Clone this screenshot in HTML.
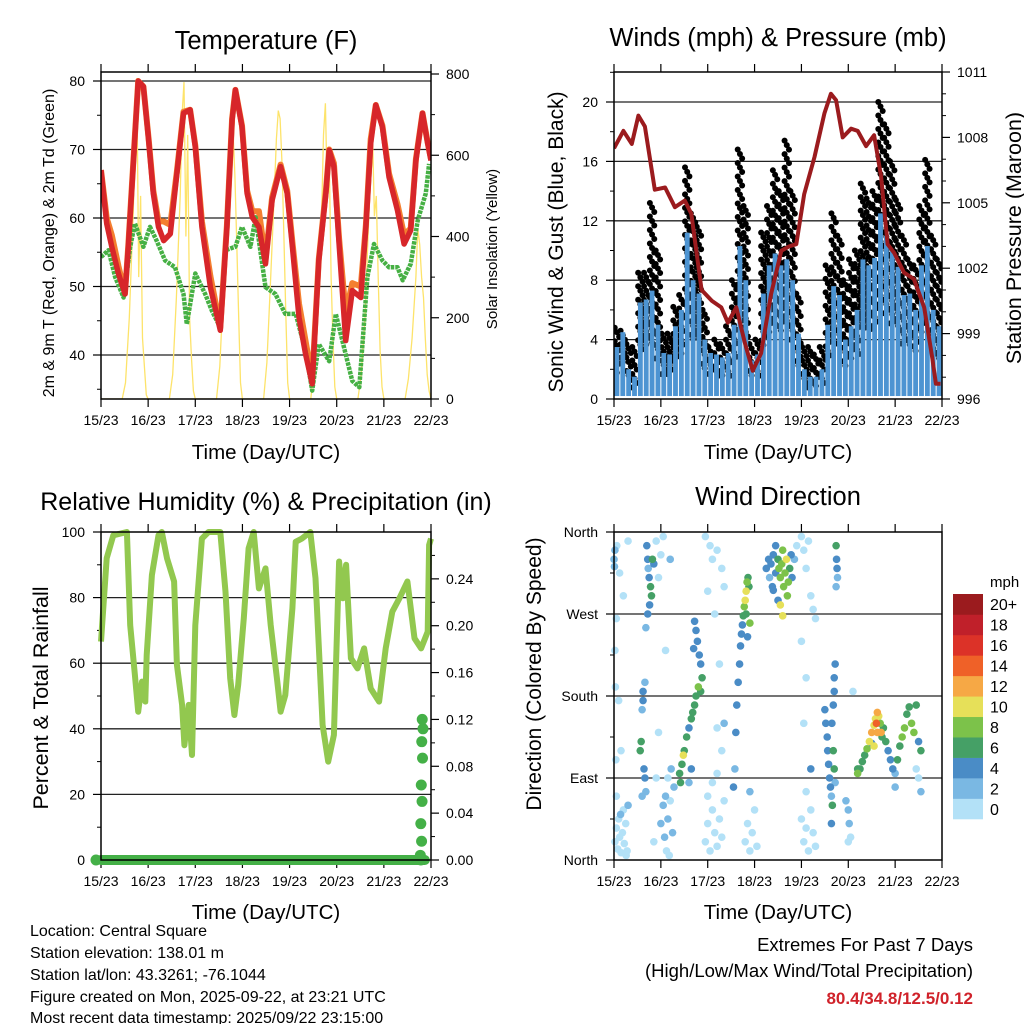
<!DOCTYPE html>
<html><head><meta charset="utf-8"><style>
html,body{margin:0;padding:0;background:#fff;}
svg{display:block;font-family:"Liberation Sans",Arial,sans-serif;}
</style></head><body>
<svg id="root" width="1024" height="1024" viewBox="0 0 1024 1024" xmlns="http://www.w3.org/2000/svg">
<rect x="0" y="0" width="1024" height="1024" fill="#fff"/>
<g font-size="25.5" text-anchor="middle" fill="#000">
<text x="266" y="49">Temperature (F)</text>
<text x="778" y="46">Winds (mph) &amp; Pressure (mb)</text>
<text x="266" y="510" font-size="25">Relative Humidity (%) &amp; Precipitation (in)</text>
<text x="778" y="505">Wind Direction</text>
</g>
<g font-size="20.5" text-anchor="middle">
<text x="266" y="459">Time (Day/UTC)</text>
<text x="778" y="459">Time (Day/UTC)</text>
<text x="266" y="919">Time (Day/UTC)</text>
<text x="778" y="919">Time (Day/UTC)</text>
<text transform="translate(54,243) rotate(-90)" font-size="16">2m &amp; 9m T (Red, Orange) &amp; 2m Td (Green)</text>
<text transform="translate(497,249) rotate(-90)" font-size="15">Solar Insolation (Yellow)</text>
<text transform="translate(563,242) rotate(-90)" font-size="21">Sonic Wind &amp; Gust (Blue, Black)</text>
<text transform="translate(1021,238) rotate(-90)" font-size="21.5">Station Pressure (Maroon)</text>
<text transform="translate(48,698) rotate(-90)" font-size="21.5">Percent &amp; Total Rainfall</text>
<text transform="translate(541,674) rotate(-90)" font-size="21">Direction (Colored By Speed)</text>
</g>
<g font-size="16">
<text x="30" y="936">Location: Central Square</text>
<text x="30" y="958">Station elevation: 138.01 m</text>
<text x="30" y="980">Station lat/lon: 43.3261; -76.1044</text>
<text x="30" y="1002">Figure created on Mon, 2025-09-22, at 23:21 UTC</text>
<text x="30" y="1024" dy="-1">Most recent data timestamp: 2025/09/22 23:15:00</text>
</g>
<g font-size="18.5" text-anchor="end">
<text x="973" y="951">Extremes For Past 7 Days</text>
<text x="973" y="977">(High/Low/Max Wind/Total Precipitation)</text>
<text x="973" y="1004" fill="#d0222a" font-weight="bold" font-size="17">80.4/34.8/12.5/0.12</text>
</g>
</svg>
<script>
const dayLabels = ['15/23','16/23','17/23','18/23','19/23','20/23','21/23','22/23'];
// Temperature
const redD = [0,0.12,0.23,0.37,0.51,0.58,0.69,0.79,0.9,1.01,1.11,1.22,1.33,1.47,1.61,1.75,1.89,2.0,2.14,2.32,2.53,2.67,2.78,2.85,2.99,3.1,3.21,3.35,3.49,3.63,3.81,3.95,4.06,4.2,4.34,4.48,4.62,4.77,4.84,4.94,5.05,5.19,5.33,5.51,5.62,5.72,5.83,5.97,6.11,6.29,6.43,6.57,6.68,6.82,6.93,7];
const redV = [67,59.2,55.8,51.9,48.9,55.8,68.4,80,79.2,71.4,63.6,58.7,56.7,57.7,66.5,75.3,75.8,70.4,58.7,49.9,43.6,58.7,74.3,78.7,73.3,63.6,60.1,58.7,53.3,62.6,67.5,63.6,55.8,45.5,40.1,35.8,53.8,63.6,69.9,67.5,56.2,42.1,49.4,48.4,58.7,70.9,76.5,73.3,66,61.1,56.2,58.2,68.4,75.3,70.9,68.4];
const orangeV = [67,60,57.5,53,49,56,68.6,80,79.2,71.6,64,59.5,59.5,59,66.8,75.5,75.8,70.6,59.5,51.5,44,58.9,74.5,78.7,73.5,64,61,61,54,63,67.8,64,56.5,47.5,42,36.5,54,64,70,68,57,46,50.5,50,59,71.5,76.5,73.5,66.5,62,57.5,58.5,68.6,75.3,71,68.6];
const greenD = [0,0.16,0.3,0.48,0.62,0.72,0.9,1.04,1.18,1.36,1.57,1.75,1.82,2,2.21,2.35,2.53,2.64,2.85,2.99,3.17,3.28,3.49,3.7,3.91,4.13,4.34,4.48,4.62,4.84,4.98,5.19,5.33,5.48,5.65,5.79,5.97,6.11,6.29,6.4,6.57,6.72,6.89,6.96];
const greenV = [54.3,55.3,51.4,48.4,55.8,59.2,55.8,58.7,56.7,53.8,52.8,48.9,44.5,51.9,48.9,46.5,44,55.3,55.8,58.7,55.8,60.1,49.9,48.9,46,46,40.6,34.8,41.6,39.1,46,40.1,36.2,35.3,51.4,56.2,53.8,52.8,52.8,50.9,53.3,59.7,63.6,67.9];
const solarOffsets = [0.45,0.52,0.6,0.68,0.72,0.76,0.8,0.84,0.88,0.92,0.96,1.0];
const solarDay0 = [0,40,200,450,600,790,300,500,150,80,10,0];
const solarDay1 = [0,60,250,500,700,780,400,650,200,100,20,0];
const solarDay2 = [0,80,280,500,620,690,660,550,380,200,40,0];
const solarDay3 = [0,90,300,520,640,710,690,580,400,210,40,0];
const solarDay4 = [0,80,250,450,650,728,500,600,300,150,30,0];
const solarDay5 = [0,60,200,450,550,654,450,500,300,120,30,0];
const solarDay6 = [0,50,150,300,420,380,300,250,150,60,20,0];
// Winds
const windTop = [3.5,4.5,2,1.5,6.5,6.7,7.3,5,3.1,3,4.9,6,11.2,8,7.1,4,3.1,3,2.8,3.1,5,10.3,8,2.6,3,7.1,9,9.8,9,9.4,8,4.4,2,1.5,1.5,2,5,7.6,7,4,4.9,6,9.4,9,9.5,12.5,11,10,8.9,7,7.1,6,9,10.3,6,4.9];
const gustTop = [4.8,4.6,3.7,3.5,8.5,8.5,13.2,10,4.4,4.4,6.2,7,15.6,12.5,11.6,6,3.5,4,3.7,4.9,8,16.8,13,3.7,4,11.2,13,15.4,14,17.4,14,7.1,3.5,3.5,3,3.5,9,12.5,11,8,9.4,10,14.5,13.5,14,20,18.5,16,13.4,11,9.4,9,13,16.1,11,9.4];
const presD = [0,0.2,0.38,0.52,0.66,0.87,1.09,1.3,1.51,1.65,1.87,2.09,2.29,2.43,2.61,2.79,2.96,3.14,3.35,3.57,3.74,3.89,4.06,4.28,4.49,4.63,4.74,4.88,5.06,5.2,5.38,5.55,5.7,5.84,5.98,6.19,6.4,6.62,6.79,6.87,6.97];
const presV = [1007.5,1008.3,1007.7,1009,1008.5,1005.6,1005.7,1004.8,1005.1,1004.5,1001,1000.5,1000.2,999.5,1000.2,998.6,997.3,998.1,1000.8,1002.8,1003,1003.1,1005.4,1007.1,1009.1,1010,1009.7,1008,1008.4,1008.3,1007.6,1008.1,1006.2,1003.1,1002.7,1001.8,1001.5,1000.2,997.9,996.7,996.7];
// Humidity & precip
const rhD = [0,0.12,0.26,0.55,0.62,0.72,0.79,0.87,0.94,0.97,1.08,1.22,1.29,1.4,1.55,1.61,1.72,1.77,1.86,1.93,2,2.14,2.28,2.53,2.64,2.74,2.83,2.91,3.03,3.13,3.24,3.35,3.49,3.6,3.74,3.81,3.91,4.06,4.13,4.26,4.44,4.55,4.7,4.82,4.94,5.05,5.13,5.2,5.3,5.44,5.58,5.72,5.9,6.04,6.18,6.33,6.5,6.65,6.79,6.93,6.96,7];
const rhV = [66.6,92,99,100,71.6,56.4,45.2,54.4,48.3,62.5,86.9,99,100,92,84.9,59.5,47.3,35,47.3,32,71.6,98,100,100,81.8,55.4,44.2,53.4,73.7,95,100,82.8,88.9,71.6,54.4,45.2,50.3,76.7,97,98,100,85.9,41.2,30,38.1,91,79.8,90,61.5,58.4,64.5,52.3,48.3,64.5,75.7,79.8,84.9,67.6,64.5,69.6,96,98];
const precipD = [0,6.87,6.88,6.885,6.89,6.895,6.9,6.905,6.91,6.915,6.92];
const precipV = [0,0,0.004,0.016,0.031,0.05,0.064,0.087,0.101,0.112,0.12];
// Wind direction [day, degrees, mph]
const dirDay = [0.02,0.05,0.08,0.1,0.12,0.15,0.18,0.2,0.22,0.25,0.28,0.3,0.05,0.14,0.26,0,0.01,0.02,0.06,0.12,0.2,0.3,0.05,0.03,0.1,0.04,0.15,0.02,0.7,0.72,0.73,0.75,0.78,0.82,0.85,0.8,0.76,0.72,0.68,0.66,0.62,0.62,0.6,0.58,0.56,0.64,0.66,0.68,0.6,0.9,1.0,1.05,0.95,1.1,1.2,0.9,0.95,0.85,1.0,1.05,1.08,1.1,1.12,1.15,1.18,1.2,1.25,1.28,1.15,1.22,1.4,1.45,1.48,1.5,1.55,1.6,1.65,1.68,1.72,1.75,1.8,1.85,1.88,1.85,1.82,1.78,1.75,1.72,1.7,1.65,1.6,1.42,1.95,2.0,2.05,2.1,2.15,2.2,2.25,2.3,2.35,2.0,2.1,2.2,2.3,2.2,2.35,1.95,2.05,2.1,2.2,2.3,2.35,2.15,2.0,2.25,2.55,2.58,2.6,2.62,2.65,2.68,2.7,2.72,2.74,2.76,2.78,2.8,2.82,2.84,2.86,2.88,2.82,2.85,2.9,2.8,2.85,2.9,2.95,3.0,2.9,3.05,3.25,3.3,3.32,3.35,3.38,3.4,3.45,3.45,3.5,3.52,3.55,3.58,3.6,3.62,3.65,3.68,3.7,3.72,3.75,3.78,3.8,3.55,3.6,3.5,3.85,3.9,3.4,4.0,4.05,4.1,4.15,4.2,4.25,4.3,4.0,4.1,4.05,4.0,4.05,4.1,4.15,4.2,4.25,4.3,4.1,4.2,4.5,4.52,4.55,4.56,4.58,4.6,4.62,4.64,4.66,4.65,4.68,4.7,4.7,4.72,4.68,4.7,4.72,4.64,4.74,4.75,4.76,4.77,4.74,4.95,5.0,5.02,5.05,5.0,5.1,5.2,5.2,5.25,5.3,5.35,5.4,5.45,5.5,5.55,5.58,5.62,5.65,5.68,5.7,5.72,5.75,5.8,5.85,5.9,5.95,6.0,6.05,6.1,6.15,6.2,6.25,6.3,6.35,6.4,6.45,6.5,6.55,6.0,5.5,5.6,5.62,5.55,6.5,6.55,6.45];
const dirDeg = [20,35,12,45,25,8,30,55,18,40,10,60,70,50,5,330,322,340,345,315,290,350,265,190,175,110,120,230,345,330,320,310,300,330,325,290,280,270,255,195,185,175,165,130,120,100,90,75,70,350,335,355,310,230,330,90,140,20,40,60,25,70,10,45,5,65,30,80,90,100,95,105,115,120,135,145,155,162,170,180,190,185,200,215,225,240,252,262,232,100,85,85,20,40,10,55,30,15,45,25,65,70,85,95,120,145,150,355,345,330,340,320,300,270,295,215,80,100,140,170,195,215,235,248,258,268,278,285,295,305,310,300,270,245,260,20,40,10,30,55,75,15,320,330,310,325,300,335,345,315,330,320,310,325,340,300,315,330,290,305,320,335,310,280,268,285,330,345,296,355,340,320,350,290,275,265,240,200,150,45,20,35,10,55,30,15,75,100,165,150,135,120,105,90,80,70,60,150,170,185,200,215,120,100,85,40,345,330,320,310,300,65,55,40,25,20,185,100,95,100,108,115,122,130,140,148,155,162,158,150,140,135,145,130,120,110,100,95,110,125,135,145,160,168,150,140,170,130,120,80,128,150,140,125,90,75,100];
const dirSpd = [1,0,0,1,0,1,0,1,0,1,0,2,0,2,0,3,3,2,0,1,0,1,1,0,1,1,0,0,4,4,3,5,6,6,5,6,4,4,2,3,4,4,3,6,6,4,4,3,3,1,1,0,0,1,2,1,0,1,2,2,3,2,1,2,1,0,2,2,0,2,6,7,10,6,6,5,6,6,7,6,8,6,6,5,4,4,4,4,4,4,3,7,0,0,1,0,0,0,1,0,1,1,0,1,0,0,2,0,1,0,0,0,1,0,0,0,4,3,4,4,4,4,4,5,4,6,8,10,10,8,6,7,7,4,8,0,1,0,1,1,2,0,4,4,3,5,4,4,4,5,6,8,8,8,8,9,8,10,9,8,7,5,4,10,10,4,2,1,4,0,0,1,0,1,0,1,0,0,0,0,0,1,0,0,0,1,0,4,4,4,4,4,4,4,4,3,6,4,5,4,4,5,6,6,3,4,6,4,4,3,3,3,2,2,1,0,0,6,8,6,6,6,8,10,12,10,10,12,10,8,12,6,6,6,4,4,4,3,6,6,8,8,6,6,8,8,6,4,6,3,4,14,13,10,1,2,1];
const speedColors = ['#b3e1f7','#7ab8e3','#4a8cc6','#45a066','#7cc24a','#e6e059','#f6a845','#ef6128','#dc3228','#c0202a','#9b1b1e'];
const speedLabels = ['0','2','4','6','8','10','12','14','16','18','20+'];

const NS = 'http://www.w3.org/2000/svg';
const root = document.getElementById('root');
function mk(tag, attrs, parent) {
  const e = document.createElementNS(NS, tag);
  for (const k in attrs) e.setAttribute(k, attrs[k]);
  (parent || root).appendChild(e);
  return e;
}
function txt(parent, x, y, s, anchor, size) {
  const t = mk('text', {x: x, y: y, 'text-anchor': anchor, 'font-size': size}, parent);
  t.textContent = s;
  return t;
}
function pathFrom(xs, ys) {
  return xs.map((v, i) => (i ? 'L' : 'M') + v.toFixed(1) + ',' + ys[i].toFixed(1)).join('');
}

function frame(name, x0, x1, y0, y1, leftTicks, leftMinor, leftFmt, leftScale, grid, rightTicks, rightMinor, rightFmt, rightScale) {
  const g = mk('g', {});
  
  
  const dx = (x1 - x0) / 7;
  grid.forEach(v => {
    const l = mk('line', {x1: x0, x2: x1, y1: leftScale(v), y2: leftScale(v), stroke: '#222', 'stroke-width': 1.3}, g);
    
    
  });
  for (let d = 0; d <= 7; d++) {
    const x = x0 + d * dx;
    mk('line', {x1: x, x2: x, y1: y1, y2: y1 + 8, stroke: '#000', 'stroke-width': 1.2}, g);
    mk('line', {x1: x, x2: x, y1: y0, y2: y0 - 8, stroke: '#000', 'stroke-width': 1.2}, g);
    const t = txt(g, x, y1 + 26, dayLabels[d], 'middle', 14);
    
    
  }
  leftMinor.forEach(v => mk('line', {x1: x0 - 4, x2: x0, y1: leftScale(v), y2: leftScale(v), stroke: '#000'}, g));
  leftTicks.forEach(v => {
    const y = leftScale(v);
    mk('line', {x1: x0 - 8, x2: x0, y1: y, y2: y, stroke: '#000', 'stroke-width': 1.2}, g);
    const t = txt(g, x0 - 16, y + 5, leftFmt(v), 'end', 14);
    
    
  });
  if (rightTicks) {
    rightMinor.forEach(v => mk('line', {x1: x1, x2: x1 + 4, y1: rightScale(v), y2: rightScale(v), stroke: '#000'}, g));
    rightTicks.forEach(v => {
      const y = rightScale(v);
      mk('line', {x1: x1, x2: x1 + 8, y1: y, y2: y, stroke: '#000', 'stroke-width': 1.2}, g);
      const t = txt(g, x1 + 15, y + 5, rightFmt(v), 'start', 14);
      
      
    });
  }
  return g;
}
function border(name, x0, x1, y0, y1) {
  const b = mk('rect', {x: x0, y: y0, width: x1 - x0, height: y1 - y0, fill: 'none', stroke: '#000', 'stroke-width': 1.5});
  
  
}

// ===== Temperature panel =====
const TX0 = 101, TX1 = 431, TY0 = 72, TY1 = 399;
const xT = d => TX0 + d * (TX1 - TX0) / 7;
const yT = t => 81 + (80 - t) * 6.85;
const ySol = s => TY1 - s * 0.40625;
frame('temp', TX0, TX1, TY0, TY1, [40,50,60,70,80], [35,45,55,65,75], v => String(v), yT, [40,50,60,70,80],
  [0,200,400,600,800], [100,300,500,700], v => String(v), ySol);
const defs = mk('defs', {});
const cT = mk('clipPath', {id: 'clipT'}, defs); mk('rect', {x: TX0, y: TY0, width: TX1 - TX0, height: TY1 - TY0}, cT);
const cW = mk('clipPath', {id: 'clipW'}, defs); mk('rect', {x: 614, y: 72, width: 328, height: 327}, cW);
const cD = mk('clipPath', {id: 'clipD'}, defs); mk('rect', {x: 610, y: 528, width: 336, height: 336}, cD);
const tempG = mk('g', {'clip-path': 'url(#clipT)'});


const solarDays = [solarDay0, solarDay1, solarDay2, solarDay3, solarDay4, solarDay5, solarDay6];
solarDays.forEach((vals, day) => {
  const xs = [xT(day)], ys = [ySol(0)];
  solarOffsets.forEach((o, i) => { xs.push(xT(day + o)); ys.push(ySol(vals[i])); });
  const p = mk('path', {d: pathFrom(xs, ys), fill: 'none', stroke: '#fde36a', 'stroke-width': 1.3}, tempG);
  
  
});
const orangeLine = mk('path', {d: pathFrom(redD.map(xT), orangeV.map(yT)), fill: 'none', stroke: '#f47f30', 'stroke-width': 6, 'stroke-linejoin': 'round'}, tempG);


const greenLine = mk('path', {d: pathFrom(greenD.map(xT), greenV.map(yT)), fill: 'none', stroke: '#46b044', 'stroke-width': 4.5, 'stroke-linejoin': 'round', 'stroke-dasharray': '3.5 1'}, tempG);


const redLine = mk('path', {d: pathFrom(redD.map(xT), redV.map(yT)), fill: 'none', stroke: '#d7262a', 'stroke-width': 5.5, 'stroke-linejoin': 'round'}, tempG);


border('temp', TX0, TX1, TY0, TY1);

// ===== Winds panel =====
const WX0 = 614, WX1 = 942, WY0 = 72, WY1 = 399;
const xW = d => WX0 + d * (WX1 - WX0) / 7;
const yW = s => WY1 - s * 14.85;
const yP = p => WY1 - (p - 996) * 21.8;
frame('wind', WX0, WX1, WY0, WY1, [0,4,8,12,16,20], [2,6,10,14,18,22], v => String(v), yW, [4,8,12,16,20],
  [996,999,1002,1005,1008,1011], [997,998,1000,1001,1003,1004,1006,1007,1009,1010], v => String(v), yP);
const windG = mk('g', {'clip-path': 'url(#clipW)'});


const bw = (WX1 - WX0) / 7 / 8;
gustTop.forEach((g, k) => {
  const x = xW(k / 8);
  const top = yW(g), bot = yW(windTop[k] * 0.5);
  let j = 0;
  for (let y = top; y <= bot; y += 4.5) {
    const c = mk('circle', {cx: x + bw / 2 + ((j % 3) - 1) * 2.2, cy: y, r: 3, fill: '#000'}, windG);
    
    
    j++;
  }
});
windTop.forEach((w, k) => {
  const x = xW(k / 8);
  const top = yW(w), bot = yW(0.2);
  const r = mk('rect', {x: x + 0.5, y: top, width: bw - 1, height: bot - top, fill: '#4d94d2'}, windG);
  
  
});
const presLine = mk('path', {d: pathFrom(presD.map(xW), presV.map(yP)), fill: 'none', stroke: '#9b1b1e', 'stroke-width': 4, 'stroke-linejoin': 'round'}, windG);


border('wind', WX0, WX1, WY0, WY1);

// ===== Humidity panel =====
const RX0 = 101, RX1 = 431, RY0 = 532, RY1 = 860;
const xR = d => RX0 + d * (RX1 - RX0) / 7;
const yR = h => RY1 - h * 3.28;
const yPr = p => RY1 - p / 0.28 * 328;
frame('rh', RX0, RX1, RY0, RY1, [0,20,40,60,80,100], [10,30,50,70,90], v => String(v), yR, [20,40,60,80],
  [0,0.04,0.08,0.12,0.16,0.2,0.24], [0.02,0.06,0.1,0.14,0.18,0.22,0.26], v => v.toFixed(2), yPr);
const rhLine = mk('path', {d: pathFrom(rhD.map(xR), rhV.map(yR)), fill: 'none', stroke: '#92c84f', 'stroke-width': 6, 'stroke-linejoin': 'round'});


for (let i = 1; i < precipD.length; i++) {
  if (precipV[i] === precipV[i - 1]) {
    const s = mk('line', {x1: xR(precipD[i - 1]), x2: xR(precipD[i]), y1: yPr(precipV[i]), y2: yPr(precipV[i]), stroke: '#44b047', 'stroke-width': 10, 'stroke-linecap': 'round'});
    
    
  }
}
precipD.forEach((d, i) => {
  const c = mk('circle', {cx: xR(d) - 5 + (i % 2) * 1, cy: yPr(precipV[i]), r: 5.5, fill: '#44b047'});
  
  
});
border('rh', RX0, RX1, RY0, RY1);

// ===== Wind direction panel =====
const DX0 = 614, DX1 = 942, DY0 = 532, DY1 = 860;
const xD = d => DX0 + d * (DX1 - DX0) / 7;
const yD = a => DY1 - a * 328 / 360;
const dirNames = {0: 'North', 90: 'East', 180: 'South', 270: 'West', 360: 'North'};
frame('dir', DX0, DX1, DY0, DY1, [0,90,180,270,360], [45,135,225,315], v => dirNames[v], yD, [90,180,270], null);
const dirG = mk('g', {'clip-path': 'url(#clipD)'});


const order = dirSpd.map((s, i) => i).sort((a, b) => dirSpd[a] - dirSpd[b]);
order.forEach(i => {
  const ci = Math.min(10, Math.floor(dirSpd[i] / 2));
  const c = mk('circle', {cx: xD(dirDay[i]), cy: yD(dirDeg[i]), r: 3.8, fill: speedColors[ci]}, dirG);
  
  
});
border('dir', DX0, DX1, DY0, DY1);
// colorbar
const cb = mk('g', {});


const mt = txt(cb, 990, 587, 'mph', 'start', 15);


const boxH = 225 / 11;
speedLabels.forEach((lab, i) => {
  const y = 819 - (i + 1) * boxH;
  const r = mk('rect', {x: 953, y: y, width: 30, height: boxH + 0.3, fill: speedColors[i]}, cb);
  
  
  const t = txt(cb, 990, y + boxH / 2 + 6, lab, 'start', 16);
  
  
});
</script>
</body></html>
